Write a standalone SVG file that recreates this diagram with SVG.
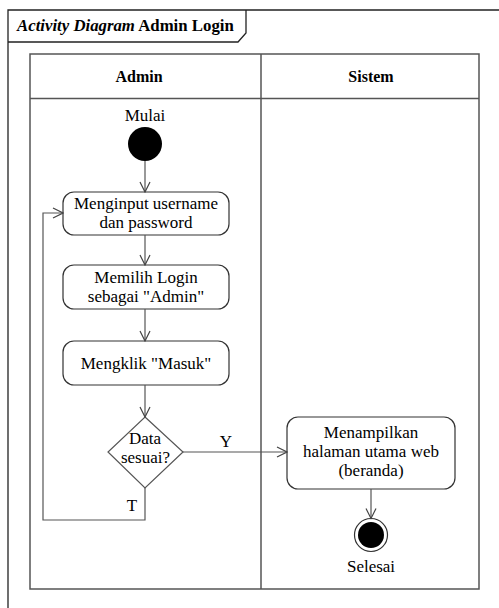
<svg xmlns="http://www.w3.org/2000/svg" width="499" height="608" viewBox="0 0 499 608">
<defs>
<style>
.t{font-family:"Liberation Serif","Times New Roman",serif;font-size:17px;fill:#000;text-anchor:middle}
.b{font-weight:bold}
.lane{fill:none;stroke:#555;stroke-width:1.5}
.act{fill:#fff;stroke:#333;stroke-width:1.2}
.edge{fill:none;stroke:#555;stroke-width:1.2}
</style>
<marker id="arr" viewBox="0 0 12 12" markerWidth="12" markerHeight="12" refX="11" refY="6" orient="auto" markerUnits="userSpaceOnUse">
<path d="M1,1 L11,6 L1,11" fill="none" stroke="#444" stroke-width="1.2"/>
</marker>
</defs>
<rect width="499" height="608" fill="#fff"/>
<g id="frame">
<path d="M8,612 L8,10 L503,10" fill="none" stroke="#222" stroke-width="1.3"/>
<path d="M8,42 L238,42 L246,33 L246,10" fill="none" stroke="#222" stroke-width="1.3"/>
<text x="17" y="31" class="t b" style="text-anchor:start;font-size:16.8px"><tspan font-style="italic">Activity Diagram</tspan> Admin Login</text>
</g>
<g id="swimlanes">
<rect x="30" y="54" width="449" height="535" class="lane"/>
<line x1="30" y1="98.5" x2="479" y2="98.5" class="lane"/>
<line x1="261" y1="54" x2="261" y2="589" class="lane"/>
<text x="139" y="82" class="t b" style="font-size:16px">Admin</text>
<text x="371" y="82" class="t b" style="font-size:16px">Sistem</text>
</g>
<g id="start">
<text x="145" y="121" class="t">Mulai</text>
<circle cx="145" cy="144" r="17" fill="#000"/>
</g>
<g id="act1">
<rect x="63" y="192" width="166" height="43" rx="11" class="act"/>
<text x="146" y="209" class="t">Menginput username</text>
<text x="146" y="228" class="t">dan password</text>
</g>
<g id="act2">
<rect x="63" y="265" width="166" height="44" rx="11" class="act"/>
<text x="146" y="283" class="t">Memilih Login</text>
<text x="146" y="302" class="t">sebagai "Admin"</text>
</g>
<g id="act3">
<rect x="63" y="341" width="166" height="44" rx="11" class="act"/>
<text x="146" y="369" class="t">Mengklik "Masuk"</text>
</g>
<g id="decision">
<path d="M145,417 L183,452 L145,488 L108,452 Z" fill="#fff" stroke="#555" stroke-width="1.2"/>
<text x="145" y="444" class="t">Data</text>
<text x="145.5" y="463" class="t">sesuai?</text>
</g>
<g id="act4">
<rect x="287" y="417" width="168" height="72" rx="11" class="act"/>
<text x="371" y="438" class="t">Menampilkan</text>
<text x="371" y="457" class="t">halaman utama web</text>
<text x="371" y="476" class="t">(beranda)</text>
</g>
<g id="end">
<circle cx="371" cy="535" r="16.5" fill="#fff" stroke="#333" stroke-width="1.2"/>
<circle cx="371" cy="535" r="13" fill="#000"/>
<text x="371" y="572" class="t">Selesai</text>
</g>
<g id="connectors">
<line x1="145" y1="161" x2="145" y2="192" class="edge" marker-end="url(#arr)"/>
<line x1="145" y1="235" x2="145" y2="265" class="edge" marker-end="url(#arr)"/>
<line x1="145" y1="309" x2="145" y2="341" class="edge" marker-end="url(#arr)"/>
<line x1="145" y1="385" x2="145" y2="417" class="edge" marker-end="url(#arr)"/>
<line x1="183" y1="452" x2="287" y2="452" class="edge" marker-end="url(#arr)"/>
<polyline points="145,488 145,520 43,520 43,213 63,213" class="edge" marker-end="url(#arr)"/>
<line x1="371" y1="489" x2="371" y2="518.5" class="edge" marker-end="url(#arr)"/>
<text x="226" y="447" class="t">Y</text>
<text x="132" y="511" class="t">T</text>
</g>
</svg>
